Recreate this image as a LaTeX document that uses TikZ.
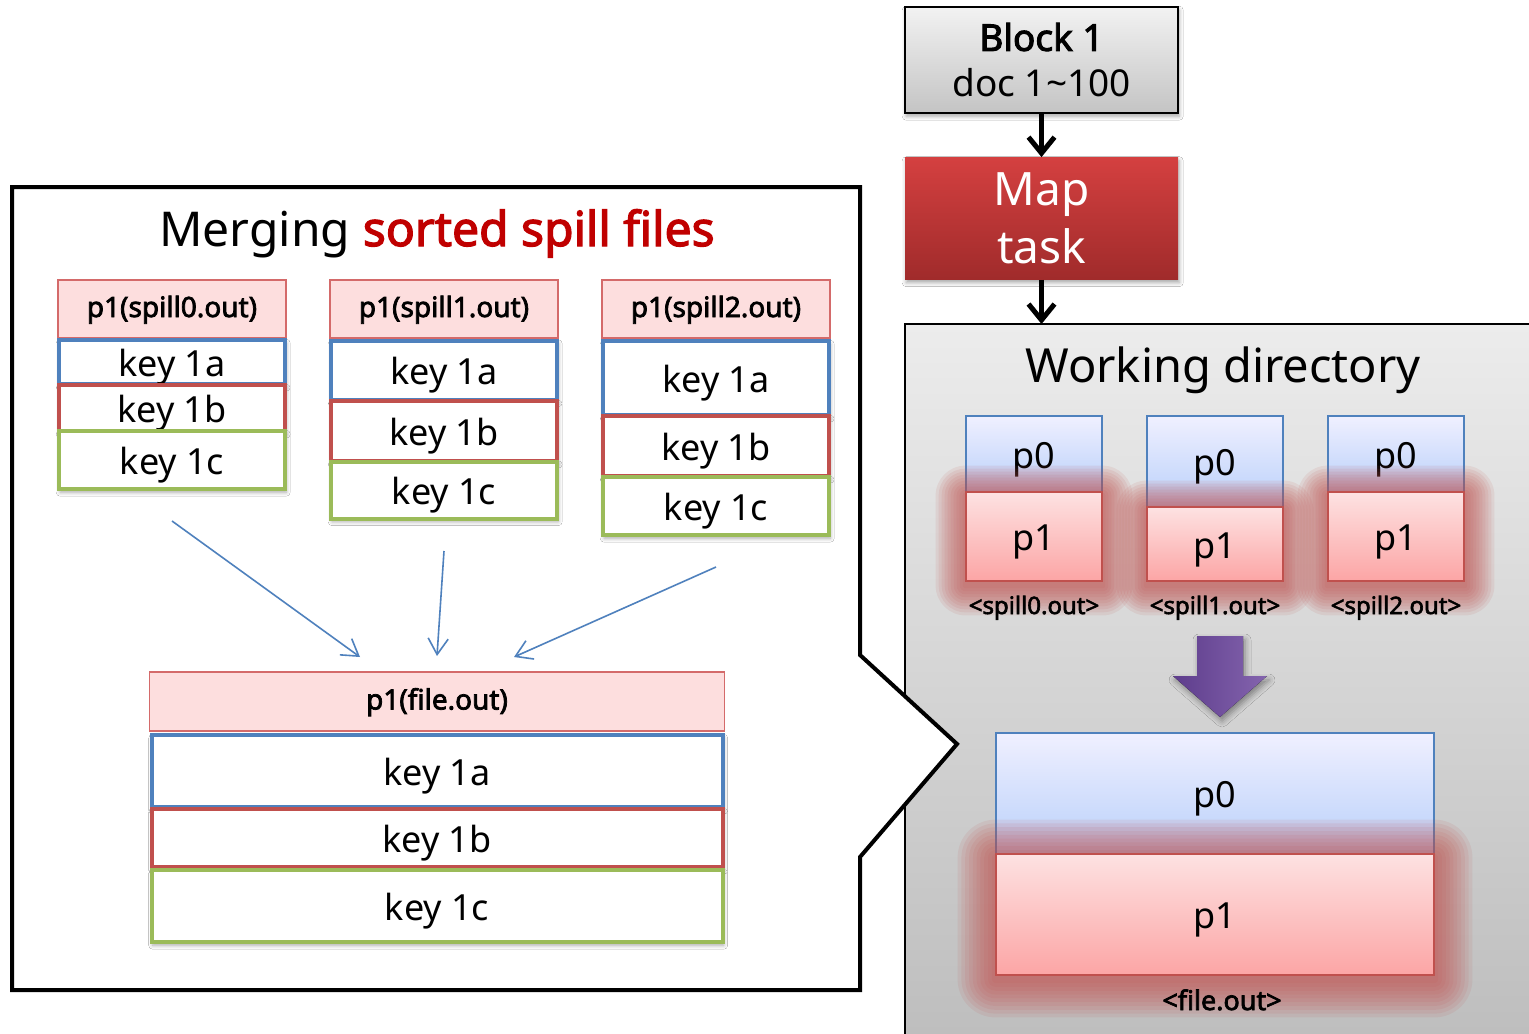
\documentclass[tikz,border=0pt]{standalone}
\usepackage{fontspec}
\setmainfont{Noto Sans}[AutoFakeBold=2.6]
\usetikzlibrary{arrows.meta,shadows.blur}

\definecolor{kblue}{HTML}{4F81BD}
\definecolor{kred}{HTML}{C0504D}
\definecolor{kgreen}{HTML}{9BBB59}
\definecolor{hdrfill}{HTML}{FDDEDE}
\definecolor{hdrline}{HTML}{D46A6A}
\definecolor{titlered}{HTML}{C00000}
\definecolor{maptop}{HTML}{D44040}
\definecolor{mapbot}{HTML}{A02B2B}
\definecolor{glowred}{HTML}{C0504D}
\definecolor{purpleL}{HTML}{5E3D8C}
\definecolor{purpleR}{HTML}{8464AE}

% soft red halo around a partition box: #1 node, #2 spread in pt
\newcommand\partglow[2]{%
  \foreach \i in {1,...,10}{%
    \pgfmathsetmacro\sp{\i*#2/10}%
    \fill[glowred, opacity=0.1, rounded corners=\sp pt]
      ([shift={(-\sp pt,\sp pt-2pt)}]#1.north west) rectangle
      ([shift={(\sp pt,-\sp pt-2pt)}]#1.south east);
  }%
}

\begin{document}
\begin{tikzpicture}[x=0.5pt,y=-0.5pt,
  softshadow/.style={blur shadow={shadow xshift=0.6pt, shadow yshift=-1.6pt,
      shadow blur radius=2pt, shadow opacity=35}},
  hdr/.style={draw=hdrline, line width=0.6pt, fill=hdrfill, inner sep=0pt,
      text height=8pt, text depth=0pt,
      font=\fontsize{14}{16}\selectfont\bfseries},
  keybox/.style={fill=white, line width=2pt, inner sep=0pt, softshadow,
      text height=14pt, text depth=0pt,
      font=\fontsize{18}{20}\selectfont},
  keya/.style={keybox, draw=kblue},
  keyb/.style={keybox, draw=kred},
  keyc/.style={keybox, draw=kgreen},
  pzero/.style={draw=kblue, line width=1pt, top color=blue!6!white,
      bottom color={rgb,255:red,185;green,208;blue,250}, inner sep=0pt,
      text height=14pt, text depth=0pt,
      font=\fontsize{18}{20}\selectfont},
  pone/.style={draw=kred, line width=1pt, top color={rgb,255:red,253;green,226;blue,226},
      bottom color={rgb,255:red,252;green,165;blue,165}, inner sep=0pt,
      text height=14pt, text depth=0pt,
      font=\fontsize{18}{20}\selectfont},
  plabel/.style={font=\fontsize{12}{14}\selectfont\bfseries, inner sep=0pt, anchor=base},
  flow/.style={line width=2.5pt, -{Straight Barb[length=8pt,width=13pt]}},
  merge/.style={kblue, line width=0.8pt, -{Straight Barb[length=8pt,width=10pt]}}
]
\useasboundingbox (0,0) rectangle (1529,1033);
\clip (0,0) rectangle (1529,1033);
\fill[white] (0,0) rectangle (1529,1033);

% ---------- working directory panel ----------
\draw[line width=0.7pt, top color={rgb,255:red,236;green,236;blue,236},
  bottom color={rgb,255:red,189;green,189;blue,189}]
  (905,324) rectangle (1545,1050);
\node[font=\fontsize{23.5}{26}\selectfont, inner sep=0pt, anchor=base] (wdtitle) at (1223,382) {Working directory};

% ---------- input block and map task ----------
\node[draw=black, line width=1pt, top color={rgb,255:red,242;green,242;blue,242},
  bottom color={rgb,255:red,196;green,196;blue,196}, softshadow,
  minimum width=136.5pt, minimum height=53pt, inner sep=0pt, align=center,
  font=\fontsize{18.5}{23}\selectfont] (block) at (1041.5,60)
  {\raisebox{-2pt}{\bfseries Block 1}\\\raisebox{-2pt}{doc 1\textasciitilde100}};
\node[top color=maptop, bottom color=mapbot, softshadow,
  minimum width=136.5pt, minimum height=61pt, inner sep=0pt, align=center,
  text=white, font=\fontsize{23}{29}\selectfont] (map) at (1041.5,218.5)
  {\raisebox{-1.5pt}{Map}\\\raisebox{-1.5pt}{task}};
\coordinate (wdtop) at (1041.5,324);
\draw[flow] (block.south) -- (map.north);
\draw[flow] (map.south) -- (wdtop);

% ---------- spill files in the working directory ----------
\node[pzero, minimum width=68pt, minimum height=38pt] (w0p0) at (1034,454) {p0};
\node[pzero, minimum width=68pt, minimum height=45.5pt] (w1p0) at (1215,461.5) {p0};
\node[pzero, minimum width=68pt, minimum height=38pt] (w2p0) at (1396,454) {p0};
\node[minimum width=68pt, minimum height=44.5pt, inner sep=0pt] (w0g) at (1034,536.5) {};
\node[minimum width=68pt, minimum height=37pt, inner sep=0pt] (w1g) at (1215,544) {};
\node[minimum width=68pt, minimum height=44.5pt, inner sep=0pt] (w2g) at (1396,536.5) {};
\partglow{w0g}{15}
\partglow{w1g}{15}
\partglow{w2g}{15}
\node[pone, minimum width=68pt, minimum height=44.5pt] (w0p1) at (1034,536.5) {p1};
\node[pone, minimum width=68pt, minimum height=37pt] (w1p1) at (1215,544) {p1};
\node[pone, minimum width=68pt, minimum height=44.5pt] (w2p1) at (1396,536.5) {p1};
\node[plabel] (w0l) at (1034,614) {<spill0.out>};
\node[plabel] (w1l) at (1215,614) {<spill1.out>};
\node[plabel] (w2l) at (1396,614) {<spill2.out>};

% merged output file
\node[pzero, minimum width=219pt, minimum height=60.5pt] (wfp0) at (1215,793.5) {p0};
\node[minimum width=219pt, minimum height=60.5pt, inner sep=0pt] (wfg) at (1215,914.5) {};
\partglow{wfg}{19}
\node[pone, minimum width=219pt, minimum height=60.5pt] (wfp1) at (1215,914.5) {p1};
\node[plabel, font=\fontsize{13.5}{15}\selectfont\bfseries] (wfl) at (1222,1010) {<file.out>};

% merge arrow
\fill[left color=purpleL, right color=purpleR,
  blur shadow={shadow xshift=1pt, shadow yshift=-2pt, shadow blur radius=3pt, shadow opacity=40}]
  (1197,636) -- (1243,636) -- (1243,676) -- (1267,676) -- (1220,717)
  -- (1173,676) -- (1197,676) -- cycle;

% ---------- callout with the merge of partition p1 ----------
\draw[line width=2pt, fill=white, line join=miter]
  (12,187) -- (860,187) -- (860,655) -- (957,744) -- (860,857)
  -- (860,990) -- (12,990) -- cycle;
\node[font=\fontsize{24}{28}\selectfont, inner sep=0pt, anchor=base] (mtitle) at (437,246)
  {Merging \textcolor{titlered}{\bfseries sorted spill files}};

% spill 0
\node[hdr, minimum width=114pt, minimum height=29pt] (s0h) at (172,309) {p1(spill0.out)};
\node[keya, minimum width=113pt, minimum height=22pt] (s0a) at (172,362) {key 1a};
\node[keyb, minimum width=113pt, minimum height=23pt] (s0b) at (172,408) {key 1b};
\node[keyc, minimum width=113pt, minimum height=29pt] (s0c) at (172,460) {key 1c};
% spill 1
\node[hdr, minimum width=114pt, minimum height=29pt] (s1h) at (444,309) {p1(spill1.out)};
\node[keya, minimum width=113pt, minimum height=29.5pt] (s1a) at (444,370) {key 1a};
\node[keyb, minimum width=113pt, minimum height=30pt] (s1b) at (444,431) {key 1b};
\node[keyc, minimum width=113pt, minimum height=28.5pt] (s1c) at (444,490) {key 1c};
% spill 2
\node[hdr, minimum width=114pt, minimum height=29pt] (s2h) at (716,309) {p1(spill2.out)};
\node[keya, minimum width=113pt, minimum height=37pt] (s2a) at (716,378) {key 1a};
\node[keyb, minimum width=113pt, minimum height=30pt] (s2b) at (716,446) {key 1b};
\node[keyc, minimum width=113pt, minimum height=29pt] (s2c) at (716,506) {key 1c};
% merged
\node[hdr, minimum width=287.5pt, minimum height=29.5pt] (fh) at (437,701.5) {p1(file.out)};
\node[keya, minimum width=285.5pt, minimum height=36pt] (fa) at (437,771) {key 1a};
\node[keyb, minimum width=285.5pt, minimum height=29pt] (fb) at (437,838) {key 1b};
\node[keyc, minimum width=285.5pt, minimum height=36pt] (fc) at (437,906) {key 1c};

\coordinate (m0s) at (172,521); \coordinate (m0e) at (360,657);
\coordinate (m1s) at (444,551); \coordinate (m1e) at (437,656);
\coordinate (m2s) at (716,567); \coordinate (m2e) at (514,657);
\draw[merge] (m0s) -- (m0e);
\draw[merge] (m1s) -- (m1e);
\draw[merge] (m2s) -- (m2e);
\end{tikzpicture}
\end{document}
